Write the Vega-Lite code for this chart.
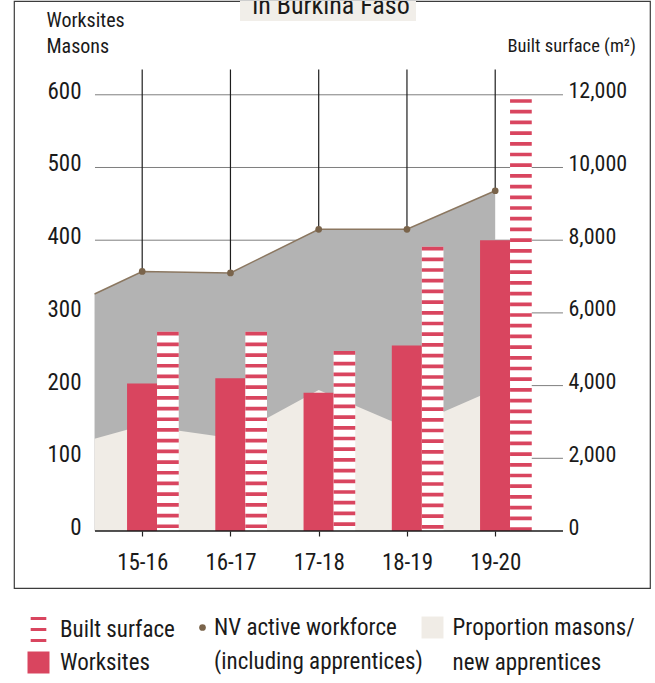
{
  "$schema": "https://vega.github.io/schema/vega-lite/v6.json",
  "background": "white",
  "padding": {"left": 13, "top": 0, "right": 0, "bottom": 0},
  "bounds": "flush",
  "spacing": 16,
  "config": {
    "font": "Liberation Sans Narrow, Roboto Condensed, Roboto, sans-serif",
    "view": {"stroke": "#3c3c3c", "strokeWidth": 1.2},
    "axis": {"labelColor": "#1a1a1a", "titleColor": "#1a1a1a"},
    "legend": {"labelColor": "#1a1a1a"}
  },
  "datasets": {
    "years": [
      {"i": 0, "season": "15-16", "worksites": 203, "built": 5480, "workforce": 357},
      {"i": 1, "season": "16-17", "worksites": 210, "built": 5480, "workforce": 355},
      {"i": 2, "season": "17-18", "worksites": 190, "built": 4950, "workforce": 415},
      {"i": 3, "season": "18-19", "worksites": 255, "built": 7820, "workforce": 415},
      {"i": 4, "season": "19-20", "worksites": 400, "built": 11880, "workforce": 468}
    ],
    "profile": [
      {"i": -0.54, "workforce": 326, "proportion": 127},
      {"i": 0, "workforce": 357, "proportion": 145},
      {"i": 1, "workforce": 355, "proportion": 128},
      {"i": 2, "workforce": 415, "proportion": 194},
      {"i": 3, "workforce": 415, "proportion": 142},
      {"i": 4, "workforce": 468, "proportion": 195}
    ],
    "grid": [{"v": 100}, {"v": 200}, {"v": 300}, {"v": 400}, {"v": 500}, {"v": 600}]
  },
  "vconcat": [
    {
      "width": 636,
      "height": 587,
      "resolve": {"scale": {"y": "independent"}, "axis": {"y": "independent", "x": "independent"}},
      "layer": [
        {
          "data": {"name": "grid"},
          "mark": {"type": "rule", "color": "#7f7f7f", "strokeWidth": 1},
          "encoding": {
            "x": {"datum": -0.535, "type": "quantitative", "scale": {"domain": [-1.4527, 5.754], "nice": false, "zero": false, "padding": 0}, "axis": null},
            "x2": {"datum": 4.768},
            "y": {"field": "v", "type": "quantitative", "scale": {"domain": [-78.4, 729], "nice": false, "zero": false},
              "axis": {"orient": "left", "offset": -81, "values": [0, 100, 200, 300, 400, 500, 600], "domain": false, "grid": false, "ticks": false, "tickSize": 0, "labelPadding": 14, "labelFontSize": 23, "labelOffset": -3.5, "labelBaseline": "middle", "labelFlush": false, "labelOverlap": false,
                "title": ["Worksites", "Masons"], "titleAngle": 0, "titleAlign": "left", "titleBaseline": "top", "titleX": -49, "titleY": 9.5, "titleFontSize": 20, "titleFontWeight": "normal", "titleLineHeight": 25.5}}
          }
        },
        {
          "data": {"values": [{}]},
          "mark": {"type": "rect", "color": "#F1EEE9"},
          "encoding": {
            "x": {"datum": 1.108, "type": "quantitative", "scale": {"domain": [-1.4527, 5.754], "nice": false, "zero": false, "padding": 0}, "axis": null},
            "x2": {"datum": 3.1025},
            "y": {"datum": 729, "type": "quantitative", "scale": {"domain": [-78.4, 729], "nice": false, "zero": false}, "axis": null},
            "y2": {"datum": 701.5}
          }
        },
        {
          "data": {"name": "profile"},
          "mark": {"type": "area", "color": "#B3B3B3", "opacity": 1},
          "encoding": {
            "x": {"field": "i", "type": "quantitative", "scale": {"domain": [-1.4527, 5.754], "nice": false, "zero": false, "padding": 0},
              "axis": {"orient": "bottom", "offset": -57, "values": [0, 1, 2, 3, 4], "labelExpr": "['15-16','16-17','17-18','18-19','19-20'][datum.value]", "domain": false, "grid": false, "ticks": true, "tickSize": 5, "tickColor": "#222222", "tickWidth": 1.2, "labelPadding": 15, "labelFontSize": 23, "labelFlush": false, "labelOverlap": false, "title": null}},
            "y": {"field": "workforce", "type": "quantitative", "scale": {"domain": [-78.4, 729], "nice": false, "zero": false}, "axis": null},
            "y2": {"datum": 0}
          }
        },
        {
          "data": {"name": "profile"},
          "mark": {"type": "area", "color": "#F0ECE6"},
          "encoding": {
            "x": {"field": "i", "type": "quantitative", "scale": {"domain": [-1.4527, 5.754], "nice": false, "zero": false, "padding": 0}, "axis": null},
            "y": {"field": "proportion", "type": "quantitative", "scale": {"domain": [-78.4, 729], "nice": false, "zero": false}, "axis": null},
            "y2": {"datum": 0},
            "opacity": {"datum": "Proportion masons/", "type": "nominal", "scale": {"domain": ["Proportion masons/", "new apprentices"], "range": [1, 0]},
              "legend": {"orient": "none", "legendX": 407, "legendY": 615, "direction": "vertical", "title": null, "padding": 0, "labelFontSize": 23, "labelOffset": 8.6, "labelLimit": 400, "rowPadding": 10, "symbolSize": 484, "symbolType": "square",
                "symbolStrokeColor": "#444444", "symbolStrokeWidth": 1}}
          }
        },
        {
          "data": {"name": "profile"},
          "mark": {"type": "line", "color": "#8B7760", "strokeWidth": 1.5},
          "encoding": {
            "x": {"field": "i", "type": "quantitative", "scale": {"domain": [-1.4527, 5.754], "nice": false, "zero": false, "padding": 0}, "axis": null},
            "y": {"field": "workforce", "type": "quantitative", "scale": {"domain": [-78.4, 729], "nice": false, "zero": false}, "axis": null}
          }
        },
        {
          "data": {"name": "years"},
          "mark": {"type": "rule", "color": "#1e1e1e", "strokeWidth": 1.2},
          "encoding": {
            "x": {"field": "i", "type": "quantitative", "scale": {"domain": [-1.4527, 5.754], "nice": false, "zero": false, "padding": 0}, "axis": null},
            "y": {"field": "workforce", "type": "quantitative", "scale": {"domain": [-78.4, 729], "nice": false, "zero": false}, "axis": null},
            "y2": {"datum": 634.8}
          }
        },
        {
          "data": {"name": "years"},
          "mark": {"type": "point", "filled": true, "size": 45, "color": "#7A644B", "opacity": 1},
          "encoding": {
            "x": {"field": "i", "type": "quantitative", "scale": {"domain": [-1.4527, 5.754], "nice": false, "zero": false, "padding": 0}, "axis": null},
            "y": {"field": "workforce", "type": "quantitative", "scale": {"domain": [-78.4, 729], "nice": false, "zero": false}, "axis": null},
            "shape": {"datum": "NV active workforce", "type": "nominal", "scale": {"domain": ["NV active workforce", "(including apprentices)"], "range": ["circle", "M0,0Z"]},
              "legend": {"orient": "none", "legendX": 177, "legendY": 615, "direction": "vertical", "title": null, "padding": 0, "labelFontSize": 23, "labelOffset": 0, "labelLimit": 400, "rowPadding": 10, "symbolSize": 45, "symbolStrokeWidth": 0, "symbolFillColor": "#7A644B"}}
          }
        },
        {
          "data": {"name": "years"},
          "mark": {"type": "bar", "width": 30.3},
          "encoding": {
            "x": {"field": "i", "type": "quantitative", "scale": {"domain": [-1.4527, 5.754], "nice": false, "zero": false, "padding": 0}, "axis": null},
            "y": {"field": "worksites", "type": "quantitative", "scale": {"domain": [-78.4, 729], "nice": false, "zero": false}, "axis": null},
            "y2": {"datum": 0},
            "color": {"datum": "Worksites", "type": "nominal", "scale": {"domain": ["Built surface", "Worksites"], "range": ["#D9455F", "#D9455F"]},
              "legend": {"orient": "none", "legendX": 13, "legendY": 617, "direction": "vertical", "title": null, "padding": 0, "labelFontSize": 23, "labelOffset": 10, "labelLimit": 400, "rowPadding": 9, "symbolSize": 484, "symbolStrokeWidth": 0, "symbolType": "square",
                "encode": {
                  "symbols": {"update": {"shape": {"signal": "datum.value === 'Built surface' ? 'M-0.71,-1.13H0.71V-0.87H-0.71Z M-0.71,-0.13H0.71V0.13H-0.71Z M-0.71,0.87H0.71V1.13H-0.71Z' : 'square'"}, "fill": {"value": "#D9455F"}, "stroke": {"value": "transparent"}, "strokeWidth": {"value": 0}, "opacity": {"value": 1}}}
                }}}
          }
        },
        {
          "data": {"name": "years"},
          "mark": {"type": "rule", "color": "white", "strokeWidth": 21.7, "xOffset": 25.7},
          "encoding": {
            "x": {"field": "i", "type": "quantitative", "scale": {"domain": [-1.4527, 5.754], "nice": false, "zero": false, "padding": 0}, "axis": null},
            "y": {"field": "built", "type": "quantitative", "scale": {"domain": [-1568, 14580], "nice": false, "zero": false}, "axis": null},
            "y2": {"datum": 0}
          }
        },
        {
          "data": {"name": "years"},
          "mark": {"type": "rule", "strokeWidth": 21.7, "xOffset": 25.7, "strokeDash": [3.7, 7], "strokeCap": "butt"},
          "encoding": {
            "x": {"field": "i", "type": "quantitative", "scale": {"domain": [-1.4527, 5.754], "nice": false, "zero": false, "padding": 0}, "axis": null},
            "y": {"field": "built", "type": "quantitative", "scale": {"domain": [-1568, 14580], "nice": false, "zero": false},
              "axis": {"orient": "right", "offset": -87, "values": [0, 2000, 4000, 6000, 8000, 10000, 12000], "format": ",d", "domain": false, "grid": false, "ticks": false, "tickSize": 0, "labelPadding": 5, "labelFontSize": 22, "labelOffset": -4, "labelFlush": false, "labelOverlap": false,
                "title": "Built surface (m²)", "titleAngle": 0, "titleAlign": "left", "titleBaseline": "alphabetic", "titleX": -56, "titleY": 50, "titleFontSize": 18.5, "titleFontWeight": "normal"}},
            "y2": {"datum": 0},
            "color": {"datum": "Built surface", "type": "nominal"}
          }
        },
        {
          "data": {"values": [{}]},
          "mark": {"type": "rule", "color": "#1a1a1a", "strokeWidth": 1.5},
          "encoding": {
            "x": {"datum": -0.535, "type": "quantitative", "scale": {"domain": [-1.4527, 5.754], "nice": false, "zero": false, "padding": 0}, "axis": null},
            "x2": {"datum": 4.768},
            "y": {"datum": 0, "type": "quantitative", "scale": {"domain": [-78.4, 729], "nice": false, "zero": false}, "axis": null}
          }
        },
        {
          "data": {"values": [{}]},
          "mark": {"type": "text", "fontSize": 26, "color": "#1a1a1a", "clip": true, "baseline": "alphabetic", "align": "center"},
          "encoding": {
            "x": {"datum": 2.1394, "type": "quantitative", "scale": {"domain": [-1.4527, 5.754], "nice": false, "zero": false, "padding": 0}, "axis": null},
            "y": {"datum": 711, "type": "quantitative", "scale": {"domain": [-78.4, 729], "nice": false, "zero": false}, "axis": null},
            "text": {"value": "in Burkina Faso"}
          }
        }
      ]
    },
    {
      "width": 638,
      "height": 90,
      "data": {"values": []},
      "mark": "point",
      "encoding": {}
    }
  ]
}
